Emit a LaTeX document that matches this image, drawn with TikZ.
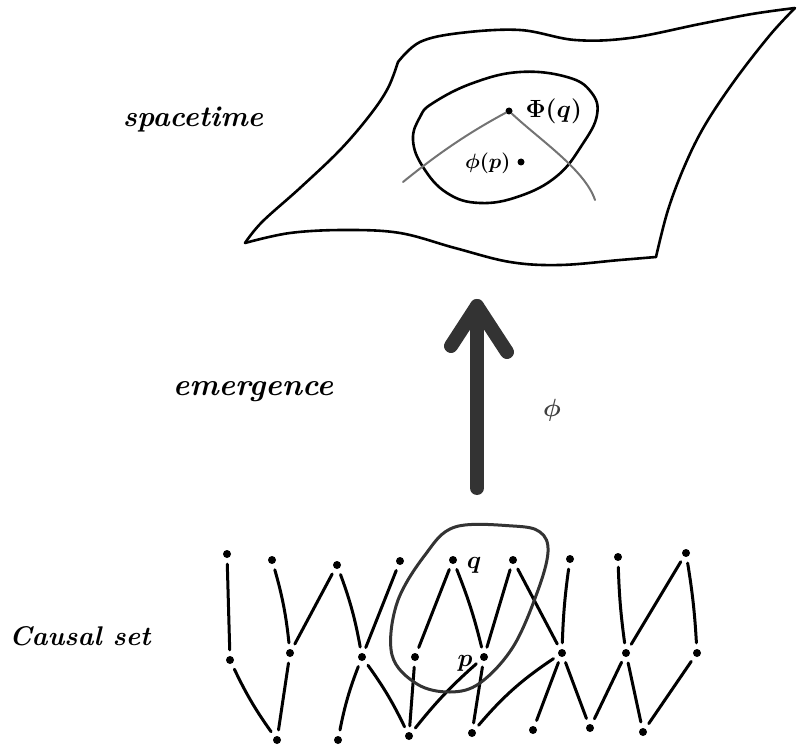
\documentclass[tikz,border=0pt]{standalone}
\usepackage{fontspec}
\begin{document}
\begin{tikzpicture}[x=1pt,y=-1pt,
  sheet/.style={line width=2.6pt, line cap=round, line join=round},
  worldline/.style={draw=black!55, line width=2pt, line cap=round},
  dot/.style={circle, fill=black, inner sep=0pt, minimum size=8pt},
  smalldot/.style={circle, fill=black, inner sep=0pt, minimum size=7pt},
  link/.style={line width=3pt, line cap=round, shorten <=6pt, shorten >=6pt},
  loop/.style={draw=black!80, line width=3pt},
  bigarrow/.style={draw=black!80, line width=14pt, line cap=round, line join=round},
  hand/.style={font=\bfseries\itshape},
  mlabel/.style={font=\fontsize{26}{30}\selectfont\boldmath}
]
\useasboundingbox (0,0) rectangle (801,746);

% ---------- spacetime sheet ----------
\draw[sheet] plot[smooth, tension=0.6] coordinates {(398,62) (420,42) (460,33) (520,30) (575,40) (630,38) (700,24) (752,14) (795,8)};
\draw[sheet] plot[smooth, tension=0.6] coordinates {(795,8) (770,35) (735,80) (705,125) (685,165) (668,210) (656,257)};
\draw[sheet] plot[smooth, tension=0.6] coordinates {(656,257) (620,260) (560,265) (510,262) (455,248) (400,233) (345,230) (290,233) (245,243)};
\draw[sheet] plot[smooth, tension=0.6] coordinates {(245,243) (262,222) (300,188) (340,150) (370,115) (388,88) (398,62)};

% inner region
\draw[sheet] plot[smooth cycle, tension=0.7] coordinates {(433,103) (473,83) (520,72) (567,77) (591,92) (597,115) (582,145) (557,176) (520,196) (480,203) (447,193) (423,167) (413,140) (420,117)};

\node[smalldot] (phq) at (509,111) {};
\node[smalldot] (php) at (521,162) {};
\coordinate (wl) at (403,182);
\coordinate (wr) at (595,200);
\draw[worldline] (phq) .. controls (470,132) and (440,152) .. (wl);
\draw[worldline] (phq) .. controls (540,140) and (585,170) .. (wr);
\node[mlabel, anchor=west] (lq) at (522,111) {$\Phi(q)$};
\node[font=\fontsize{22}{26}\selectfont\boldmath, anchor=east] (lp) at (514,163) {$\phi(p)$};

% ---------- labels ----------
\node[hand, font=\fontsize{29}{34}\selectfont\bfseries\itshape] (lspace) at (193,120) {spacetime};
\node[hand, font=\fontsize{31}{36}\selectfont\bfseries\itshape] (lemerge) at (253,392) {emergence};
\node[hand, font=\fontsize{27}{32}\selectfont\bfseries\itshape] (lcausal) at (80,636) {Causal set};
\node[font=\fontsize{30}{34}\selectfont\boldmath, text=black!75] (lphi) at (552,410) {$\phi$};

% ---------- arrow ----------
\coordinate (abot) at (477,488);
\coordinate (atip) at (477,306);
\coordinate (aleft) at (451,346);
\coordinate (aright) at (507,352);
\draw[bigarrow] (abot) -- (atip);
\draw[bigarrow] (aleft) -- (atip) -- (aright);

% ---------- causal set ----------
% top row
\node[dot] (t1) at (227,554) {};
\node[dot] (t2) at (272,560) {};
\node[dot] (t3) at (337,565) {};
\node[dot] (t4) at (400,561) {};
\node[dot] (q)  at (453,560) {};
\node[dot] (t6) at (513,560) {};
\node[dot] (t7) at (570,559) {};
\node[dot] (t8) at (618,557) {};
\node[dot] (t9) at (686,553) {};
% middle row
\node[dot] (m1) at (230,660) {};
\node[dot] (m2) at (290,653) {};
\node[dot] (m3) at (362,657) {};
\node[dot] (m4) at (415,657) {};
\node[dot] (p)  at (484,657) {};
\node[dot] (m5) at (562,653) {};
\node[dot] (m6) at (626,653) {};
\node[dot] (m7) at (697,653) {};
% bottom row
\node[dot] (b1) at (277,740) {};
\node[dot] (b2) at (338,740) {};
\node[dot] (b3) at (409,736) {};
\node[dot] (b4) at (472,733) {};
\node[dot] (b5) at (533,730) {};
\node[dot] (b6) at (590,728) {};
\node[dot] (b7) at (643,732) {};

\node[font=\fontsize{28}{32}\selectfont\boldmath] (lqq) at (474,565) {$q$};
\node[font=\fontsize{28}{32}\selectfont\boldmath] (lpp) at (465,663) {$p$};

% links top-middle
\draw[link] (t1) -- (m1);
\draw[link] (t2) to[bend left=5] (m2);
\draw[link] (m2) -- (t3);
\draw[link] (t3) to[bend left=5] (m3);
\draw[link] (t4) -- (m3);
\draw[link] (q) -- (m4);
\draw[link] (q) to[bend left=4] (p);
\draw[link] (p) -- (t6);
\draw[link] (t6) -- (m5);
\draw[link] (t7) to[bend right=3] (m5);
\draw[link] (t8) to[bend right=3] (m6);
\draw[link] (t9) -- (m6);
\draw[link] (t9) to[bend left=3] (m7);
% links middle-bottom
\draw[link] (m1) to[bend right=5] (b1);
\draw[link] (m2) -- (b1);
\draw[link] (m3) to[bend right=5] (b2);
\draw[link] (m3) to[bend left=5] (b3);
\draw[link] (m4) -- (b3);
\draw[link] (b3) to[bend left=5] (p);
\draw[link] (p) -- (b4);
\draw[link] (b4) to[bend left=8] (m5);
\draw[link] (b5) -- (m5);
\draw[link] (m5) -- (b6);
\draw[link] (b6) -- (m6);
\draw[link] (m6) -- (b7);
\draw[link] (b7) -- (m7);

% causal interval loop
\draw[loop] plot[smooth cycle, tension=0.6] coordinates {(455,527) (513,526) (540,532) (548,552) (537,593) (513,647) (480,683) (450,692) (417,684) (392,655) (397,603) (425,555)};
\end{tikzpicture}
\end{document}
